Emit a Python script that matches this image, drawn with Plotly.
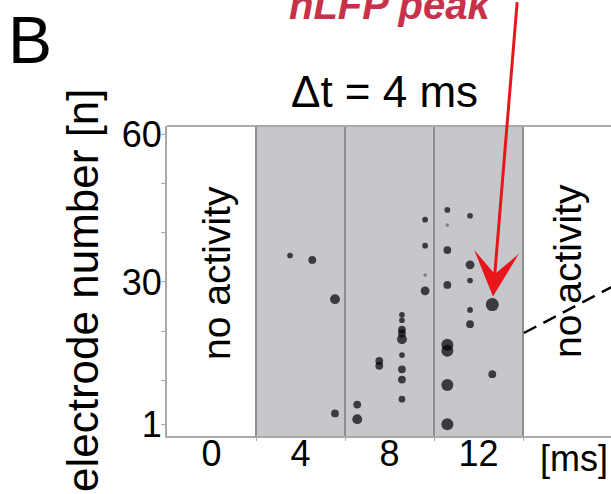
import plotly.graph_objects as go

# ---------------- data ----------------
spike_time = [3.53, 4.53, 5.55, 5.55,
              6.55, 6.55, 7.54, 7.54,
              8.56, 8.56, 8.56, 8.56, 8.56, 8.56, 8.56, 8.56, 8.56,
              9.60, 9.60, 9.60, 9.60,
              10.60, 10.60, 10.60, 10.60, 10.60, 10.60, 10.60, 10.60,
              11.62, 11.62, 11.62, 11.62, 11.62,
              12.62, 12.62]
electrode = [35.4, 34.5, 26.5, 3.2,
             5.0, 2.0, 13.9, 12.9,
             23.3, 22.2, 20.3, 19.5, 18.3, 15.1, 12.2, 10.1, 6.1,
             42.7, 37.4, 31.4, 28.2,
             44.7, 41.6, 36.5, 29.4, 17.2, 16.0, 9.0, 1.0,
             43.5, 33.5, 30.3, 24.3, 21.4,
             25.4, 11.2]
amplitude = [2, 3, 4, 3,
             3, 4, 3, 3,
             2, 2, 3, 3, 4, 2, 3, 3, 2.5,
             2, 2, 1, 3.5,
             2, 1, 3, 3, 5, 5, 5, 5,
             2, 3.5, 2, 2, 3,
             5.5, 3]
bin_edges = [2, 6, 10, 14]
x_tick_vals = [0, 4, 8, 12]
x_tick_text = ["0", "4", "8", "12"]
y_tick_vals = [1, 10, 20, 30, 40, 50, 60]
y_tick_text = ["1", "", "", "30", "", "", "60"]
peak_time, peak_electrode = 12.62, 25.4

# ---------------- figure ----------------
W, H = 611, 494
ML, MR, MT, MB = 167, 0, 126, 58
PW, PH = W - ML - MR, H - MT - MB
FONT = "Liberation Sans, Arial, Helvetica, sans-serif"


def px_x(x):
    return (x - ML) / PW


def px_y(y):
    return (H - MB - y) / PH


sizes = [1.5 + 2.1 * a for a in amplitude]
colors = ["#666666" if a <= 1 else "#000000" for a in amplitude]

fig = go.Figure()
fig.add_trace(go.Scatter(
    x=spike_time, y=electrode, mode="markers",
    marker=dict(size=sizes, color=colors, line=dict(width=0)),
    showlegend=False, hoverinfo="skip"))

shapes = [
    dict(type="rect", xref="x", yref="paper", x0=bin_edges[0], x1=bin_edges[-1],
         y0=0, y1=1, fillcolor="#c6c7cb", line=dict(width=0), layer="below"),
]
for e in bin_edges:
    shapes.append(dict(type="line", xref="x", yref="paper", x0=e, x1=e, y0=0, y1=1,
                       line=dict(color="#8d8e92", width=2), layer="below"))
shapes.append(dict(type="line", xref="paper", yref="paper", x0=0, x1=1, y0=1, y1=1,
                   line=dict(color="#a9a9a9", width=2)))
shapes.append(dict(type="line", xref="x", yref="y", x0=14.04, y0=19.6, x1=19.3, y1=32.1,
                   line=dict(color="black", width=2.5, dash="14px,8px")))


def label(text, x, y, size, angle=0, color="black"):
    return dict(text=text, xref="paper", yref="paper", x=px_x(x), y=px_y(y),
                xanchor="center", yanchor="middle", textangle=angle,
                showarrow=False, font=dict(size=size, color=color, family=FONT))


annotations = [
    label("B", 30, 40, 66),
    label("<b><i>nLFP peak</i></b>", 390, 5, 40, color="#c9304a"),
    label("Δt = 4 ms", 384, 91, 44),
    label("electrode number [n]", 82, 290, 44, angle=-90),
    label("no activity", 216, 273, 39, angle=-90),
    label("no activity", 567, 271, 39, angle=-90),
    label("[ms]", 574, 458, 36),
    dict(text="", x=peak_time, y=peak_electrode, xref="x", yref="y",
         showarrow=True, ax=25, ay=-304, arrowcolor="#e8151b", arrowwidth=3,
         arrowhead=3, arrowsize=2.5, standoff=8),
]

fig.update_layout(
    width=W, height=H,
    margin=dict(l=ML, r=MR, t=MT, b=MB, pad=0),
    paper_bgcolor="white", plot_bgcolor="white",
    font=dict(family=FONT, color="black"),
    shapes=shapes, annotations=annotations,
    xaxis=dict(range=[-2, -2 + PW / 22.25], showgrid=False, zeroline=False,
               showline=True, linecolor="#a9a9a9", linewidth=2,
               tickvals=x_tick_vals, ticktext=x_tick_text, ticks="",
               ticklabelstandoff=-15,
               tickfont=dict(size=36, family=FONT, color="black"),
               minor=dict(tickvals=bin_edges, ticks="outside", ticklen=3,
                          tickcolor="#a9a9a9")),
    yaxis=dict(range=[-1.4, 61.8], showgrid=False, zeroline=False,
               showline=True, linecolor="#a9a9a9", linewidth=2,
               tickvals=y_tick_vals, ticktext=y_tick_text, ticks="outside",
               ticklen=4, tickcolor="#a9a9a9", ticklabelstandoff=-8,
               tickfont=dict(size=36, family=FONT, color="black")),
)

fig.write_html("out.html")
